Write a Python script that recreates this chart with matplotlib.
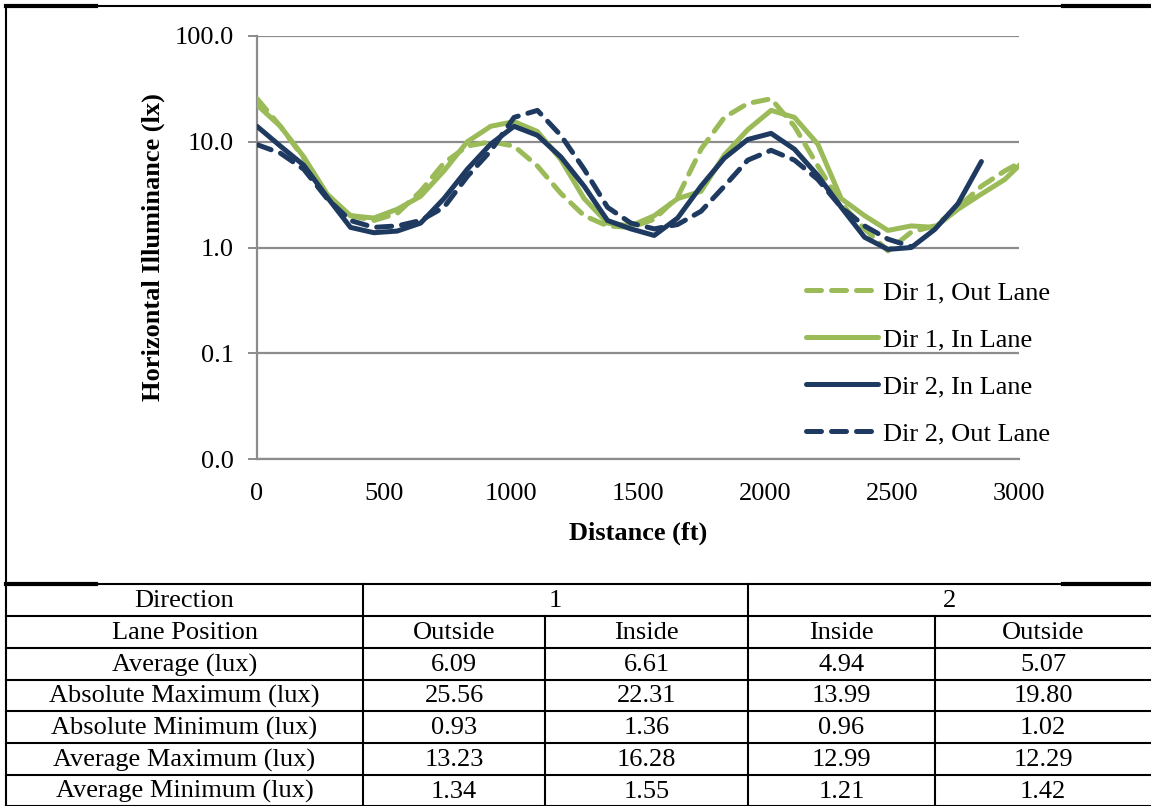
"""
Horizontal illuminance along the roadway, by direction and lane position,
with a summary table of the light levels under the chart.
"""

import matplotlib

matplotlib.use("Agg")

import matplotlib.pyplot as plt
from matplotlib.lines import Line2D
from matplotlib.ticker import FixedLocator, FormatStrFormatter

# Figure size in pixels (dpi 100)
W, H = 1151, 806
PLOT_DPI = 100

GREEN = "#9BBB59"
NAVY = "#1F3A60"
GRID = "#8C8C8C"

# Measurement spacing along the road is ~92 ft
STEP_FT = 92

# ---- data ----
dir1_out = [25.6, 14.0, 7.0, 3.0, 2.0, 1.8, 2.1, 3.4, 6.3, 9.1, 10.0, 9.1,
            5.9, 3.25, 2.0, 1.6, 1.55, 1.85, 3.0, 8.5, 17.0, 23.0, 25.5,
            14.0, 5.9, 2.6, 1.5, 0.93, 1.4, 1.6, 2.4, 3.8, 5.3, 7.0]
dir1_in = [22.3, 14.0, 7.2, 3.2, 2.0, 1.9, 2.3, 3.05, 5.3, 10.0, 14.0, 15.5,
           12.5, 6.8, 2.9, 1.7, 1.6, 2.0, 2.9, 3.4, 7.5, 13.0, 19.8, 17.0,
           9.5, 2.9, 2.0, 1.45, 1.6, 1.55, 2.3, 3.2, 4.4, 7.2]
dir2_in = [14.0, 9.1, 6.0, 3.0, 1.55, 1.38, 1.43, 1.7, 2.9, 5.5, 9.5, 14.0,
           11.5, 7.2, 3.8, 1.8, 1.5, 1.3, 1.9, 3.8, 7.0, 10.5, 12.0, 8.5,
           4.8, 2.4, 1.25, 0.96, 1.0, 1.48, 2.6, 6.5]
dir2_out = [9.4, 7.8, 5.5, 2.9, 1.8, 1.55, 1.6, 1.8, 2.4, 4.7, 8.2, 17.0,
            19.8, 11.5, 5.5, 2.4, 1.7, 1.5, 1.65, 2.2, 3.8, 6.7, 8.3, 6.7,
            4.4, 2.4, 1.6, 1.2, 1.02]

series_labels = ["Dir 1, Out Lane", "Dir 1, In Lane", "Dir 2, In Lane",
                 "Dir 2, Out Lane"]

y_ticks = [0.01, 0.1, 1, 10, 100]
x_ticks = [0, 500, 1000, 1500, 2000, 2500, 3000]

# summary table
table_directions = ["1", "2"]
lane_positions = ["Outside", "Inside", "Inside", "Outside"]
stat_names = ["Average (lux)", "Absolute Maximum (lux)",
              "Absolute Minimum (lux)", "Average Maximum (lux)",
              "Average Minimum (lux)"]
stat_values = [
    ["6.09", "6.61", "4.94", "5.07"],
    ["25.56", "22.31", "13.99", "19.80"],
    ["0.93", "1.36", "0.96", "1.02"],
    ["13.23", "16.28", "12.99", "12.29"],
    ["1.34", "1.55", "1.21", "1.42"],
]


def fx(px):
    return px / W


def fy(py):
    return 1 - py / H


def distances(values):
    return [STEP_FT * i for i in range(len(values))]


plt.rcParams["font.family"] = ["Liberation Serif", "DejaVu Serif"]
FS = 19
DASH = (0, (3.0, 2.0))

fig = plt.figure(figsize=(W / PLOT_DPI, H / PLOT_DPI), dpi=PLOT_DPI)

# plot area: x 257..1019 px, y 36..459 px
ax = fig.add_axes([fx(257), fy(459), fx(1019) - fx(257), fy(36) - fy(459)])

styles = [
    (dir1_out, GREEN, DASH),
    (dir1_in, GREEN, "-"),
    (dir2_in, NAVY, "-"),
    (dir2_out, NAVY, DASH),
]
for (vals, color, ls), label in zip(styles, series_labels):
    ax.plot(distances(vals), vals, color=color, linestyle=ls, linewidth=3.6,
            dash_capstyle="round", solid_capstyle="round", label=label,
            zorder=3)

ax.set_yscale("log")
ax.set_ylim(0.01, 100)
ax.set_xlim(0, 3000)
ax.yaxis.set_major_locator(FixedLocator(y_ticks))
ax.yaxis.set_minor_locator(FixedLocator([]))
ax.yaxis.set_major_formatter(FormatStrFormatter("%.1f"))
ax.set_xticks(x_ticks)
ax.grid(axis="y", color=GRID, linewidth=1.6, zorder=1)
ax.set_axisbelow(True)

for side in ["top", "right"]:
    ax.spines[side].set_visible(False)
for side in ["left", "bottom"]:
    ax.spines[side].set_color(GRID)
    ax.spines[side].set_linewidth(1.6)

ax.tick_params(axis="y", length=6.5, width=1.4, color=GRID, labelsize=FS,
               pad=10)
ax.tick_params(axis="x", length=0, labelsize=FS, pad=17)

ax.set_xlabel("Distance (ft)", fontsize=FS, fontweight="bold", labelpad=12)
ax.set_ylabel("Horizontal Illuminance (lx)", fontsize=FS, fontweight="bold",
              labelpad=7)

ax.legend(loc="upper left", bbox_to_anchor=(fx(795), fy(270)),
          bbox_transform=fig.transFigure, frameon=False, fontsize=FS,
          handlelength=2.75, handletextpad=0.2, labelspacing=0.9,
          borderaxespad=0)

# ---- outer frame and table ----
col_x = [6, 363, 545, 748, 935, 1151]
row_y = [584, 616, 648, 680, 711, 743, 775, 806]


def hline(y, x0, x1, lw=1.5):
    fig.add_artist(Line2D([fx(x0), fx(x1)], [fy(y), fy(y)], color="black",
                          linewidth=lw, transform=fig.transFigure))


def vline(x, y0, y1, lw=1.5):
    fig.add_artist(Line2D([fx(x), fx(x)], [fy(y0), fy(y1)], color="black",
                          linewidth=lw, transform=fig.transFigure))


hline(6, 6, W)
hline(6, 6, 96, lw=3)
hline(6, 1063, W, lw=3)
vline(6, 6, H)
for y in row_y:
    hline(y, 6, W)
hline(row_y[0], 6, 96, lw=3)
hline(row_y[0], 1063, W, lw=3)
vline(col_x[1], row_y[0], H)
vline(col_x[3], row_y[0], H)
vline(col_x[2], row_y[1], H)
vline(col_x[4], row_y[1], H)


def cell_text(text, x0, x1, y0, y1):
    fig.text(fx((x0 + x1) / 2), fy((y0 + y1) / 2 + 1), text, fontsize=FS,
             ha="center", va="center")


cell_text("Direction", col_x[0], col_x[1], row_y[0], row_y[1])
cell_text(table_directions[0], col_x[1], col_x[3], row_y[0], row_y[1])
cell_text(table_directions[1], col_x[3], col_x[5], row_y[0], row_y[1])
cell_text("Lane Position", col_x[0], col_x[1], row_y[1], row_y[2])
for j, lane in enumerate(lane_positions):
    cell_text(lane, col_x[j + 1], col_x[j + 2], row_y[1], row_y[2])
for i, (name, vals) in enumerate(zip(stat_names, stat_values)):
    cell_text(name, col_x[0], col_x[1], row_y[i + 2], row_y[i + 3])
    for j, v in enumerate(vals):
        cell_text(v, col_x[j + 1], col_x[j + 2], row_y[i + 2], row_y[i + 3])

fig.savefig("out.png", dpi=PLOT_DPI)
